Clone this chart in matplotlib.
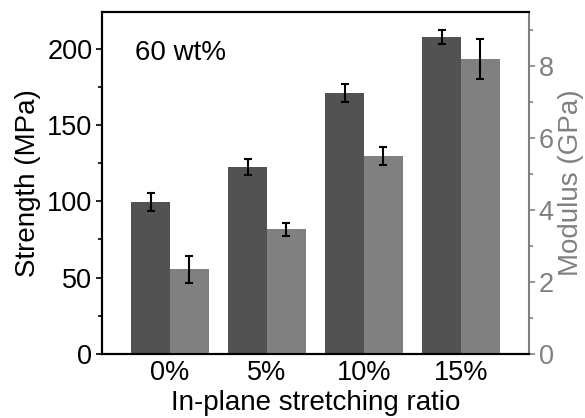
import matplotlib.pyplot as plt
import numpy as np

plt.rcParams['font.family'] = ['Liberation Sans', 'DejaVu Sans']

ratios = ["0%", "5%", "10%", "15%"]
strength = [99.4, 122.5, 171.1, 207.5]
strength_err = [5.8, 5.5, 6.0, 4.7]
modulus = [2.35, 3.46, 5.50, 8.19]
modulus_err = [0.37, 0.19, 0.26, 0.55]

dark = "#525252"
light = "#808080"

x = np.arange(len(ratios))
w = 0.4

fig = plt.figure(figsize=(5.85, 4.18), dpi=100)
ax = fig.add_axes([102/585, 1 - 354/418, 427/585, 342/418])
ax2 = ax.twinx()

ax.bar(x - w/2, strength, w, color=dark, yerr=strength_err,
       error_kw=dict(ecolor="black", elinewidth=1.5, capsize=3, capthick=1.5))
ax2.bar(x + w/2, modulus, w, color=light, yerr=modulus_err,
        error_kw=dict(ecolor="black", elinewidth=1.5, capsize=3, capthick=1.5))

ax.set_xlim(-0.7, 3.7)
ax.set_ylim(0, 224)
ax2.set_ylim(0, 9.5)

ax.set_xticks(x)
ax.set_xticklabels(ratios)
ax.tick_params(axis='x', length=0, labelsize=19.5, pad=4)
ax.set_yticks([0, 50, 100, 150, 200])
ax.set_yticks([25, 75, 125, 175], minor=True)
ax.tick_params(axis='y', which='major', length=4, width=1.2, labelsize=19.5,
               direction='out', pad=3)
ax.tick_params(axis='y', which='minor', length=3, width=1.2, direction='out')

ax2.set_yticks([0, 2, 4, 6, 8])
ax2.set_yticks([1, 3, 5, 7, 9], minor=True)
ax2.tick_params(axis='y', which='major', length=4, width=1.2, labelsize=19.5,
                colors=light, direction='out', pad=3)
ax2.tick_params(axis='y', which='minor', length=3, width=1.2, colors=light, direction='out')

for s in ['left', 'bottom', 'top']:
    ax.spines[s].set_linewidth(1.5)
    ax2.spines[s].set_linewidth(1.5)
ax2.spines['right'].set_color(light)
ax2.spines['right'].set_linewidth(1.5)
ax.spines['right'].set_visible(False)

ax.set_xlabel("In-plane stretching ratio", fontsize=20, labelpad=3)
ax.set_ylabel("Strength (MPa)", fontsize=20, labelpad=4)
ax2.set_ylabel("Modulus (GPa)", fontsize=20, color=light, labelpad=3)

ax.text(0.078, 0.88, "60 wt%", transform=ax.transAxes, fontsize=20, va='center')

fig.savefig("out.png", dpi=100)
